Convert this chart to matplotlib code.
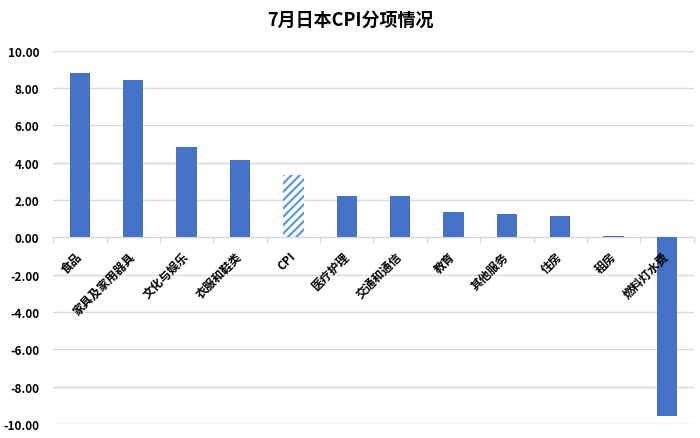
import numpy as np
import matplotlib.pyplot as plt
from matplotlib.ticker import FixedLocator, FormatStrFormatter

plt.rcParams['font.family'] = ['Noto Sans CJK SC', 'DejaVu Sans']
plt.rcParams['hatch.linewidth'] = 1.6

categories = ["食品", "家具及家用器具", "文化与娱乐", "衣服和鞋类", "CPI", "医疗护理",
              "交通和通信", "教育", "其他服务", "住房", "租房", "燃料灯水费"]
values = [8.79, 8.42, 4.83, 4.13, 3.32, 2.20, 2.20, 1.34, 1.23, 1.13, 0.10, -9.60]
highlight = "CPI"

BLUE = "#4472C4"
LIGHT = "#5B9BD5"
GRID_C = "#D9D9D9"

fig = plt.figure(figsize=(7, 4.39), dpi=100)
ax = fig.add_axes([0.076, 0.032, 0.915, 0.850])

x = np.arange(len(categories))
for xi, cat, v in zip(x, categories, values):
    if cat == highlight:
        ax.bar(xi, v, width=0.38, color="white", edgecolor=LIGHT, hatch="////",
               linewidth=0, zorder=3)
    else:
        ax.bar(xi, v, width=0.38, color=BLUE, zorder=3)

ax.set_xlim(-0.5, len(categories) - 0.5)
ax.set_ylim(-10, 10)
ax.set_yticks(np.arange(-10, 10.1, 2))
ax.yaxis.set_major_formatter(FormatStrFormatter("%.2f"))
ax.yaxis.grid(True, color=GRID_C, linewidth=1, zorder=0)
ax.tick_params(axis="y", length=0, pad=10, labelsize=8.5)
for t in ax.get_yticklabels():
    t.set_fontweight("bold")

for s in ["top", "right", "left"]:
    ax.spines[s].set_visible(False)
ax.spines["bottom"].set_position(("data", 0))
ax.spines["bottom"].set_color(GRID_C)
ax.spines["bottom"].set_zorder(2)

ax.set_xticks(x)
ax.set_xticklabels(categories, rotation=45, ha="right", va="center",
                   rotation_mode="anchor", fontsize=8.5, fontweight="bold")
ax.tick_params(axis="x", which="major", length=0, pad=12)
ax.xaxis.set_minor_locator(FixedLocator(np.arange(-0.5, len(categories), 1)))
ax.tick_params(axis="x", which="minor", length=4, color=GRID_C, width=1)
ax.xaxis.set_zorder(5)

fig.suptitle("7月日本CPI分项情况", fontsize=13, fontweight="bold", y=0.975)

fig.savefig("out.png", dpi=100)
